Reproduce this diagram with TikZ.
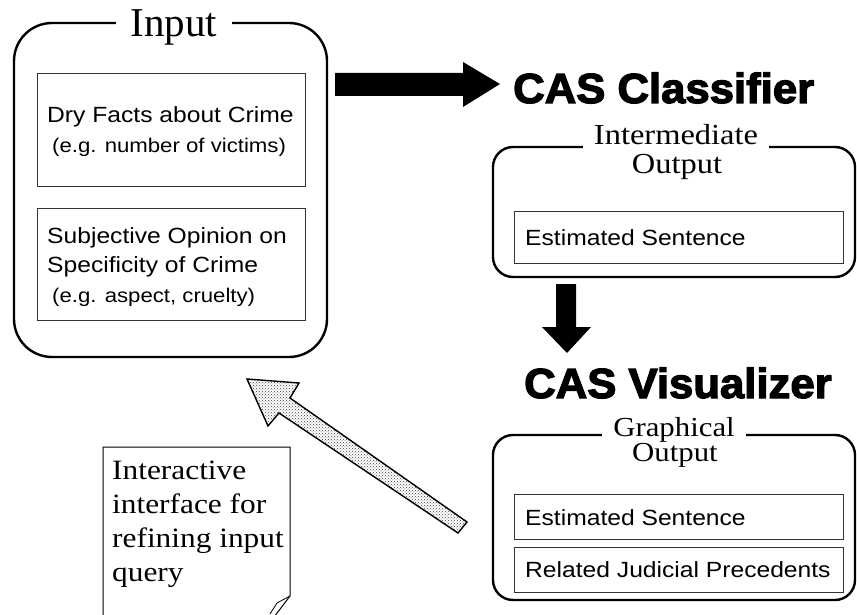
\documentclass[tikz,border=0pt]{standalone}
\usepackage{fontspec}
\usetikzlibrary{patterns}
\setmainfont{Liberation Serif}
\newfontfamily\serw[FakeStretch=1.12]{Liberation Serif}
\newfontfamily\arw[FakeStretch=1.12]{Liberation Sans}
\newfontfamily\heavy[FakeStretch=1.04,FakeBold=3]{Liberation Sans}

\tikzset{
  groupbox/.style={draw, line width=2.4pt, rounded corners=#1, inner sep=0pt},
  itembox/.style={draw=black!80, line width=1pt, inner sep=0pt},
  grouptitle/.style={fill=white, anchor=base, inner xsep=11pt, inner ysep=4pt},
  subtitle/.style={anchor=base, inner sep=0pt},
  itemtext/.style={anchor=base west, inner sep=0pt, font=\arw\fontsize{22}{26}\selectfont},
  itemnote/.style={anchor=base west, inner sep=0pt, font=\arw\fontsize{19.8}{24}\selectfont},
  stagelabel/.style={anchor=base west, inner sep=0pt, font=\heavy\bfseries\fontsize{42}{48}\selectfont},
  notetext/.style={anchor=base west, inner sep=0pt, font=\serw\fontsize{28}{32}\selectfont},
  solidarrow/.style={fill=black, draw=none},
  feedback/.style={draw, line width=1.4pt, line join=miter, pattern=crosshatch dots, pattern color=black!75},
}

\begin{document}
\begin{tikzpicture}[x=1pt,y=-1pt]
  \useasboundingbox (0,0) rectangle (857,615);
  \fill[white] (0,0) rectangle (857,615);

  % ---- Input group ----
  \node[groupbox=38pt, minimum width=313pt, minimum height=334pt] (input) at (170.5,190) {};
  \node[grouptitle, inner xsep=15pt, inner ysep=0pt, font=\fontsize{41}{46}\selectfont] (inputt) at (174,37) {Input};

  \node[itembox, minimum width=268pt, minimum height=112pt] (dry) at (171,130) {};
  \node[itemtext] (dry1) at (47,123) {Dry Facts about Crime};
  \node[itemnote] (dry2) at (52,153) {(e.g. number of victims)};

  \node[itembox, minimum width=268pt, minimum height=112pt] (subj) at (171,264) {};
  \node[itemtext] (subj1) at (47,243) {Subjective Opinion on};
  \node[itemtext] (subj2) at (47,272) {Specificity of Crime};
  \node[itemnote] (subj3) at (52,302) {(e.g. aspect, cruelty)};

  % ---- arrow into the classifier ----
  \fill[solidarrow] (335,73) -- (463,73) -- (463,62) -- (500,84) -- (463,107) -- (463,96) -- (335,96) -- cycle;
  \node[stagelabel] (cls) at (513,103) {CAS Classifier};

  % ---- Intermediate output group ----
  \node[groupbox=20pt, minimum width=362pt, minimum height=130pt] (inter) at (674,212) {};
  \node[grouptitle, font=\serw\fontsize{29}{32}\selectfont] (intert) at (676,145) {Intermediate};
  \node[subtitle, font=\serw\fontsize{29}{32}\selectfont] (intert2) at (677,174) {Output};
  \node[itembox, minimum width=329pt, minimum height=52pt] (est1) at (678.5,237) {};
  \node[itemtext] (est1t) at (525,245) {Estimated Sentence};

  % ---- arrow into the visualizer ----
  \fill[solidarrow] (556,284) -- (576,284) -- (576,327) -- (591,327) -- (567,353) -- (542,327) -- (556,327) -- cycle;
  \node[stagelabel] (vis) at (524,398) {CAS Visualizer};

  % ---- Graphical output group ----
  \node[groupbox=20pt, minimum width=362pt, minimum height=165pt] (graph) at (674,517.5) {};
  \node[grouptitle, font=\serw\fontsize{27.5}{30}\selectfont] (grapht) at (674,436) {Graphical};
  \node[subtitle, font=\serw\fontsize{27.5}{30}\selectfont] (grapht2) at (675,461) {Output};
  \node[itembox, minimum width=329pt, minimum height=45pt] (est2) at (678.5,516.5) {};
  \node[itemtext] (est2t) at (525,525) {Estimated Sentence};
  \node[itembox, minimum width=329pt, minimum height=45pt] (rel) at (678.5,569.5) {};
  \node[itemtext] (relt) at (525,577) {Related Judicial Precedents};

  % ---- feedback arrow back to the input ----
  \draw[feedback] (247,379) -- (299,383) -- (290,398) -- (467,522) -- (458,533) -- (279,413) -- (268,426) -- cycle;

  % ---- note sheet with folded corner ----
  \draw[line width=1pt] (103,625) -- (103,447) -- (290,447) -- (290,596) -- (268,625);
  \draw[line width=0.8pt, line join=round] (290,596) -- (277,603) -- (270,614);
  \node[notetext] (note1) at (112,479) {Interactive};
  \node[notetext] (note2) at (112,513) {interface for};
  \node[notetext] (note3) at (112,547) {refining input};
  \node[notetext] (note4) at (112,581) {query};
\end{tikzpicture}
\end{document}
